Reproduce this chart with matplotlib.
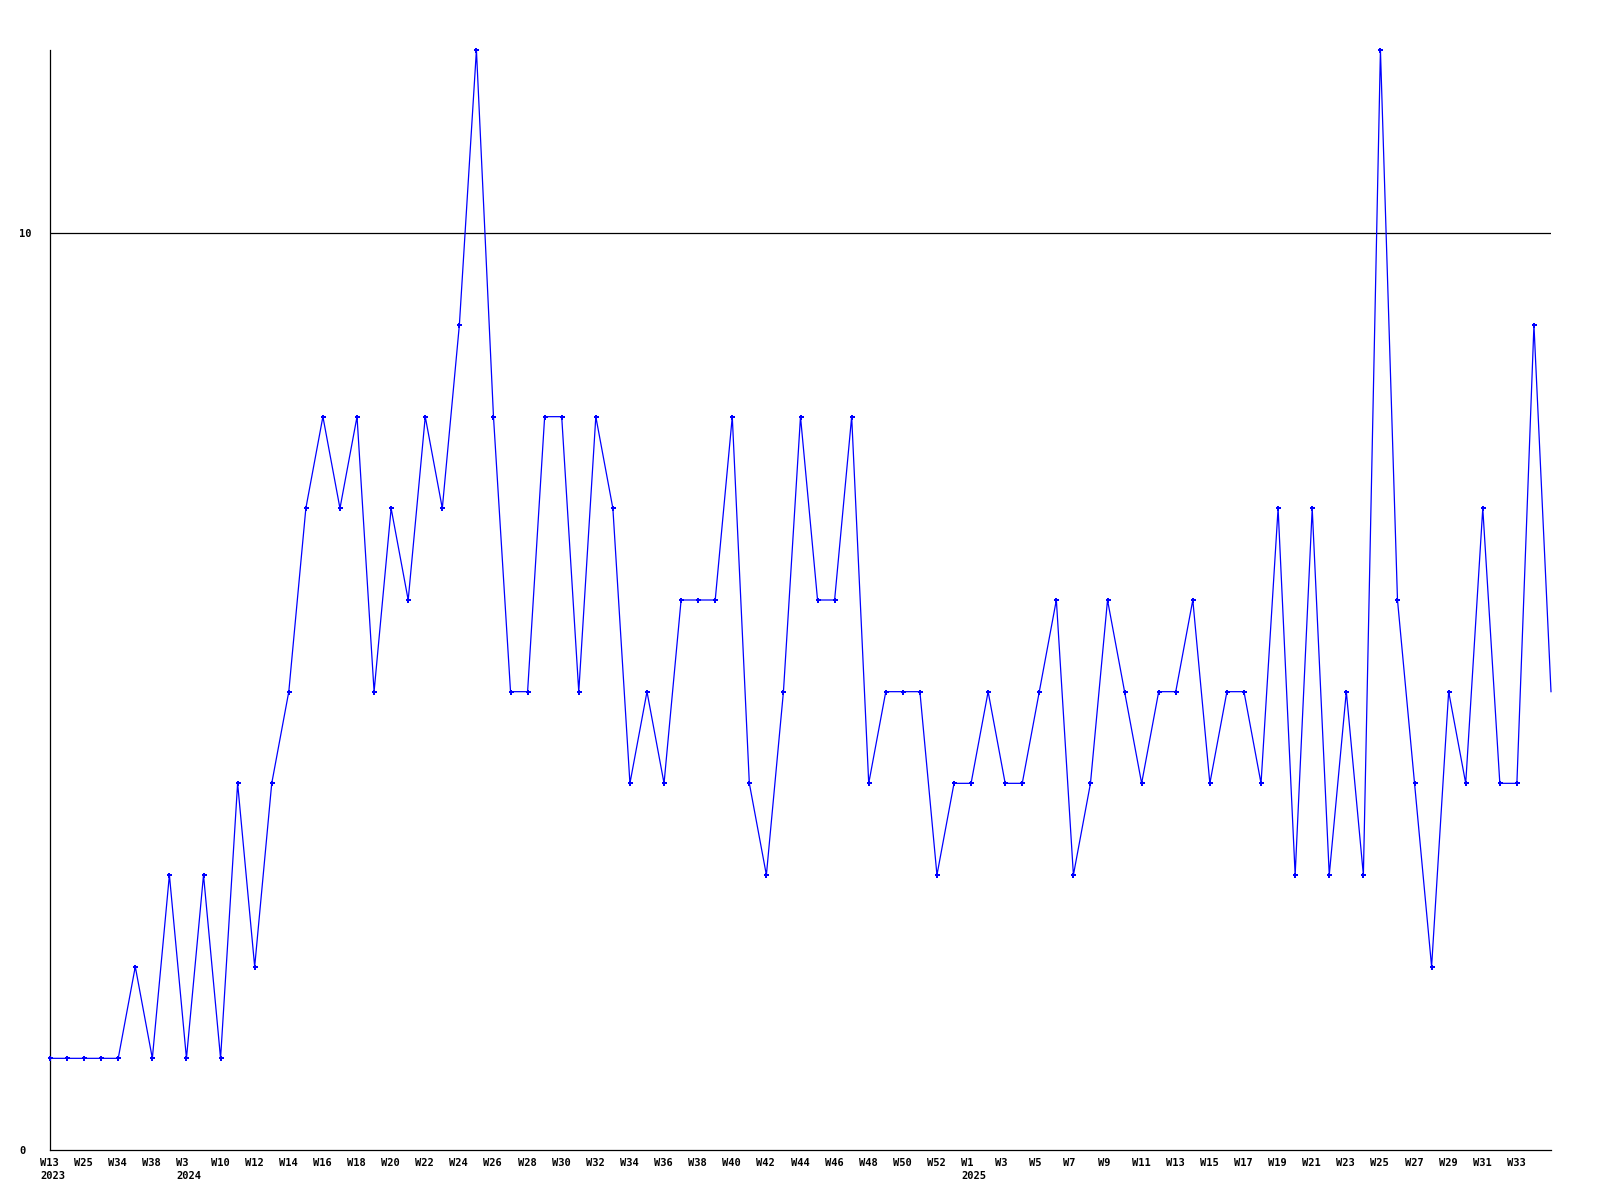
import matplotlib
matplotlib.use("Agg")
import matplotlib.pyplot as plt
import matplotlib.transforms as mtransforms

# ---- data ----
weeks = ["W13", "W19", "W25", "W29", "W34", "W36", "W38", "W49", "W3", "W7"] + \
        [f"W{w}" for w in range(10, 53)] + ["W53"] + \
        [f"W{w}" for w in range(1, 36)]
years = {0: "2023", 8: "2024", 54: "2025"}
values = [1, 1, 1, 1, 1, 2, 1, 3, 1, 3,
          1, 4, 2, 4, 5, 7, 8, 7, 8, 5,
          7, 6, 8, 7, 9, 12, 8, 5, 5, 8,
          8, 5, 8, 7, 4, 5, 4, 6, 6, 6,
          8, 4, 3, 5, 8, 6, 6, 8, 4, 5,
          5, 5, 3, 4, 4, 5, 4, 4, 5, 6,
          3, 4, 6, 5, 4, 5, 5, 6, 4, 5,
          5, 4, 7, 3, 7, 3, 5, 3, 12, 6,
          4, 2, 5, 4, 7, 4, 4, 9, 5]
y_ticks = [0, 10]
ref_line = 10

# ---- figure ----
fig = plt.figure(figsize=(16, 12), dpi=100)
ax = fig.add_axes([50 / 1600, 50 / 1200, (1551 - 50) / 1600, 1100 / 1200])

x = list(range(len(values)))
ax.plot(x, values, color=(0, 0, 1), linewidth=0.9, marker="P", markersize=3.6,
        markeredgewidth=0, markevery=list(range(len(values) - 1)), clip_on=False, zorder=3)

ax.axhline(ref_line, color="black", linewidth=0.9, zorder=2)

ax.set_xlim(0, len(values) - 1)
ax.set_ylim(0, 12)

for s in ["top", "right"]:
    ax.spines[s].set_visible(False)
for s in ["left", "bottom"]:
    ax.spines[s].set_linewidth(0.9)
    ax.spines[s].set_color("black")

font = dict(family="DejaVu Sans Mono", weight="bold", size=7.5)

# y ticks
ax.set_yticks(y_ticks)
ax.set_yticklabels([str(v) for v in y_ticks], fontdict=font, ha="left")
ax.tick_params(axis="y", length=0, pad=31 * 72 / 100)

# x ticks every other category
tick_pos = list(range(0, len(values) - 2, 2))
tick_lab = [weeks[i] + ("\n" + years[i] if i in years else "") for i in tick_pos]
ax.set_xticks(tick_pos)
ax.set_xticklabels(tick_lab, fontdict=font, ha="left", va="top", linespacing=1.35)
ax.tick_params(axis="x", length=0, pad=6)
offset = mtransforms.ScaledTranslation(-10 / 100, 0, fig.dpi_scale_trans)
for lab in ax.get_xticklabels():
    lab.set_transform(lab.get_transform() + offset)

fig.savefig("out.png", dpi=100, facecolor="white")
